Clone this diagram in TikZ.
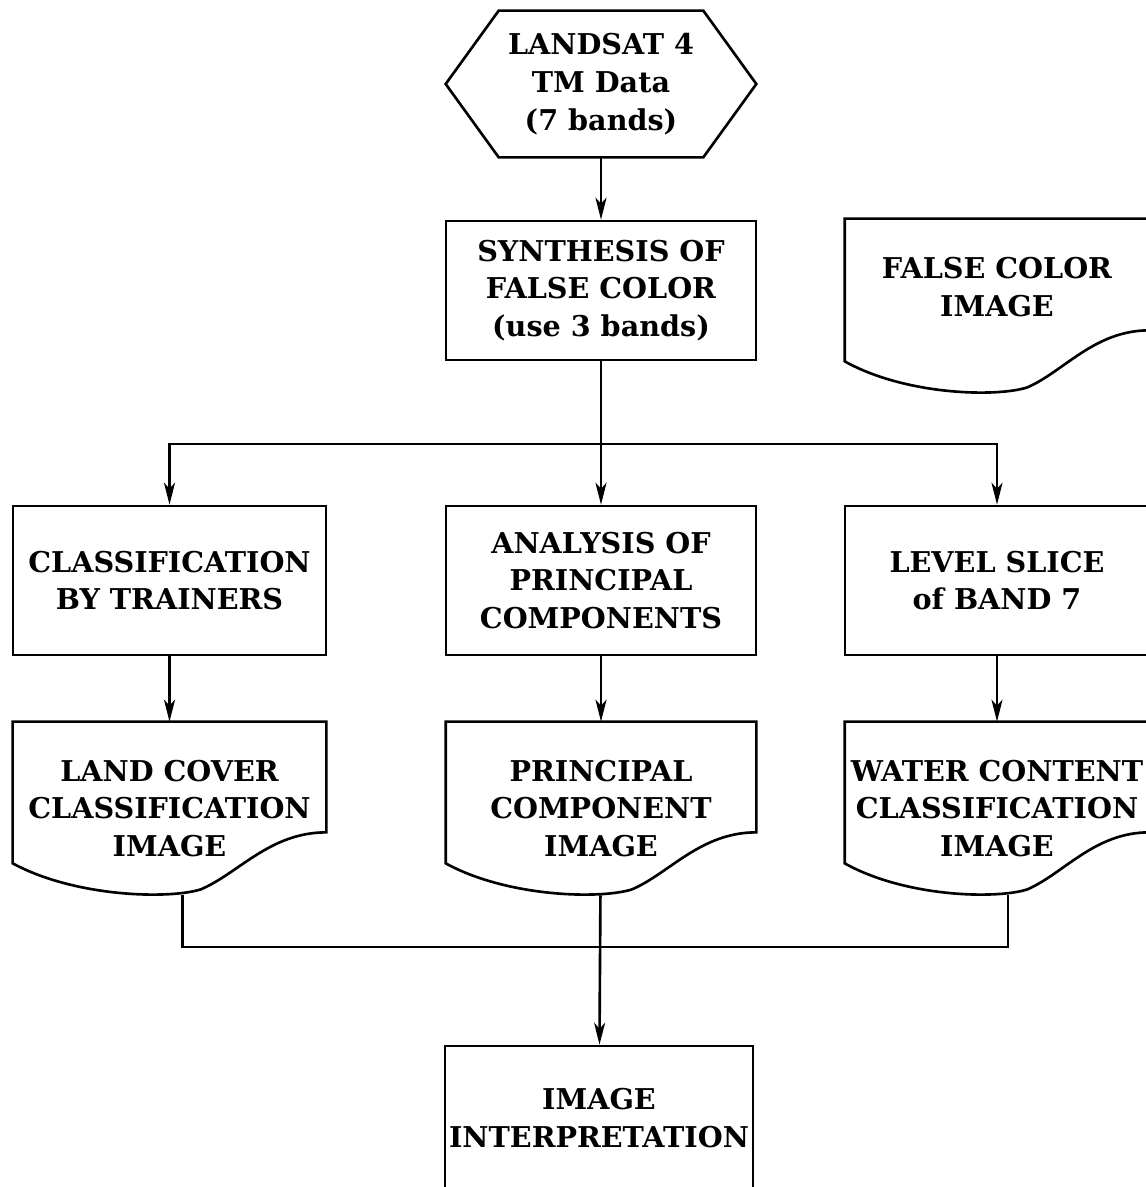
\documentclass[tikz,border=0pt]{standalone}
\usepackage{fontspec}
\setmainfont{DejaVu Serif}
\usepackage{tikz}
\usetikzlibrary{positioning}
\usetikzlibrary{calc}
\usetikzlibrary{arrows.meta}

\tikzset{
  txt/.style={align=center, inner sep=0pt, font=\fontsize{16.3}{21.5}\selectfont\bfseries},
  box/.style={txt, draw, line width=1.5pt, minimum width=6.2cm, minimum height=2.98cm},
  doc/.style={txt, minimum width=6.2cm, minimum height=3.46cm},
  hexa/.style={txt, minimum width=6.2cm, minimum height=2.92cm},
  line/.style={line width=1.5pt},
  flow/.style={line, -{Stealth[length=0.44cm, width=0.22cm, inset=0.12cm]}}
}

% outline of a hexagon round a node
\newcommand{\hexpath}[1]{%
  \draw[line] (#1.west) -- ($(#1.north west)+(53,0)$) -- ($(#1.north east)+(-53,0)$)
    -- (#1.east) -- ($(#1.south east)+(-53,0)$) -- ($(#1.south west)+(53,0)$) -- cycle;}

% outline of a document round a node
\newcommand{\docpath}[1]{%
  \draw[line] (#1.north west) -- (#1.north east) -- ($(#1.south east)+(0,-63)$)
    .. controls ($(#1.south west)!0.82!(#1.south east)+(0,-63)$) and ($(#1.south west)!0.72!(#1.south east)+(0,-22)$)
    .. ($(#1.south west)!0.6!(#1.south east)+(0,-6)$)
    .. controls ($(#1.south west)!0.5!(#1.south east)+(0,4)$) and ($(#1.south west)!0.2!(#1.south east)+(0,2)$)
    .. ($(#1.south west)+(0,-32)$) -- cycle;}

\begin{document}
\begin{tikzpicture}[x=0.02cm, y=-0.02cm]
  \useasboundingbox (0,0) rectangle (1146,1187);

  \node[hexa] (landsat) at (601,84) {LANDSAT 4\\TM Data\\(7 bands)};
  \node[box, minimum height=2.78cm] (synth) at (601,290.5) {SYNTHESIS OF\\FALSE COLOR\\(use 3 bands)};
  \node[doc, minimum width=6.08cm, minimum height=3.48cm] (falsecol) at (997,306) {};
  \node[txt] (falsetext) at (997,287) {FALSE COLOR\\IMAGE};

  \node[box, minimum width=6.26cm] (class) at (169.5,580.5) {CLASSIFICATION\\BY TRAINERS};
  \node[box] (analysis) at (601,580.5) {ANALYSIS OF\\PRINCIPAL\\COMPONENTS};
  \node[box, minimum width=6.08cm] (level) at (997,580.5) {LEVEL SLICE\\of BAND 7};

  \node[doc, minimum width=6.26cm] (land) at (169.5,808.5) {LAND COVER\\CLASSIFICATION\\IMAGE};
  \node[doc] (prin) at (601,808.5) {PRINCIPAL\\COMPONENT\\IMAGE};
  \node[doc, minimum width=6.08cm] (water) at (997,808.5) {WATER CONTENT\\CLASSIFICATION\\IMAGE};

  \node[box, minimum width=6.16cm, minimum height=2.88cm] (interp) at (599,1118) {IMAGE\\INTERPRETATION};

  \hexpath{landsat}
  \docpath{falsecol}
  \docpath{land}
  \docpath{prin}
  \docpath{water}

  \coordinate (split) at (601,444);
  \coordinate (merge) at (601,947);

  \draw[flow] (landsat) -- (synth);
  \draw[line] (synth) -- (split);
  \draw[flow] (split) -| (class);
  \draw[flow] (split) -- (analysis);
  \draw[flow] (split) -| (level);

  \draw[flow] (class) -- (land);
  \draw[flow] (analysis) -- (prin);
  \draw[flow] (level) -- (water);

  \draw[line] ($(land.south)+(13,0)$) |- (merge) -| ($(water.south)+(11,0)$);
  \draw[flow] (prin) -- (interp);
\end{tikzpicture}
\end{document}
